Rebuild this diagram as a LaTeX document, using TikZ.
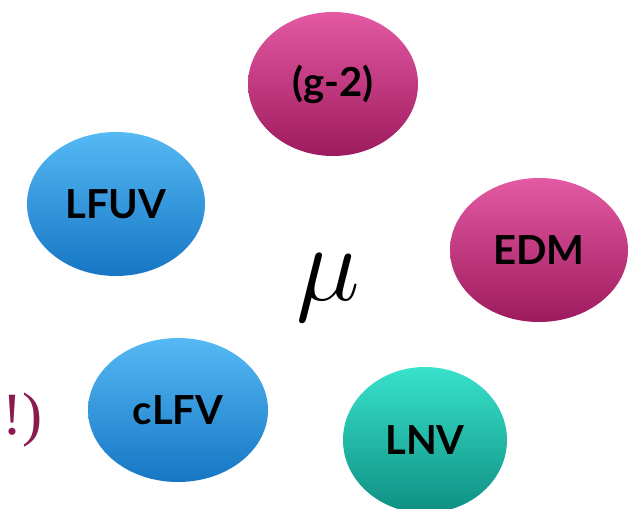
\documentclass[tikz,border=0pt]{standalone}
\usepackage{fix-cm}
\usepackage{fontspec}
\setmainfont{Lato}
\newfontfamily\serifb{Liberation Serif}
\usetikzlibrary{shapes.geometric}
\definecolor{bluetop}{HTML}{55B9F4}
\definecolor{bluebot}{HTML}{1676C4}
\definecolor{pinktop}{HTML}{E35AA3}
\definecolor{pinkbot}{HTML}{9E1A5E}
\definecolor{tealtop}{HTML}{38E2CB}
\definecolor{tealbot}{HTML}{0E8F82}
\definecolor{plum}{HTML}{8A1A50}
\begin{document}
\begin{tikzpicture}[x=1pt,y=-1pt]
\tikzset{
  bub/.style={ellipse, minimum width=176pt, minimum height=144pt, inner sep=0pt,
    font=\fontsize{40}{40}\selectfont\bfseries, text=black},
  bluebub/.style={bub, top color=bluetop, bottom color=bluebot},
  pinkbub/.style={bub, top color=pinktop, bottom color=pinkbot},
  tealbub/.style={bub, top color=tealtop, bottom color=tealbot}
}
\fill[white] (0,0) rectangle (630,509);
\useasboundingbox (0,0) rectangle (630,509);
\node[pinkbub, minimum width=170pt] (g2) at (333,84) {(g-2)};
\node[bluebub, minimum width=178pt] (lfuv) at (116,204) {LFUV};
\node[pinkbub, minimum width=178pt] (edm) at (539,250) {EDM};
\node[bluebub, minimum width=180pt] (clfv) at (178,410) {cLFV};
\node[tealbub, minimum width=164pt, minimum height=146pt] (lnv) at (425,440) {LNV};
\node[inner sep=0pt, font=\fontsize{108}{108}\selectfont] (mu) at (328,288) {$\mu$};
\node[text=plum, anchor=west, inner sep=0pt] (excl) at (2,420) {\serifb\fontsize{60}{60}\selectfont !)};
\end{tikzpicture}
\end{document}
